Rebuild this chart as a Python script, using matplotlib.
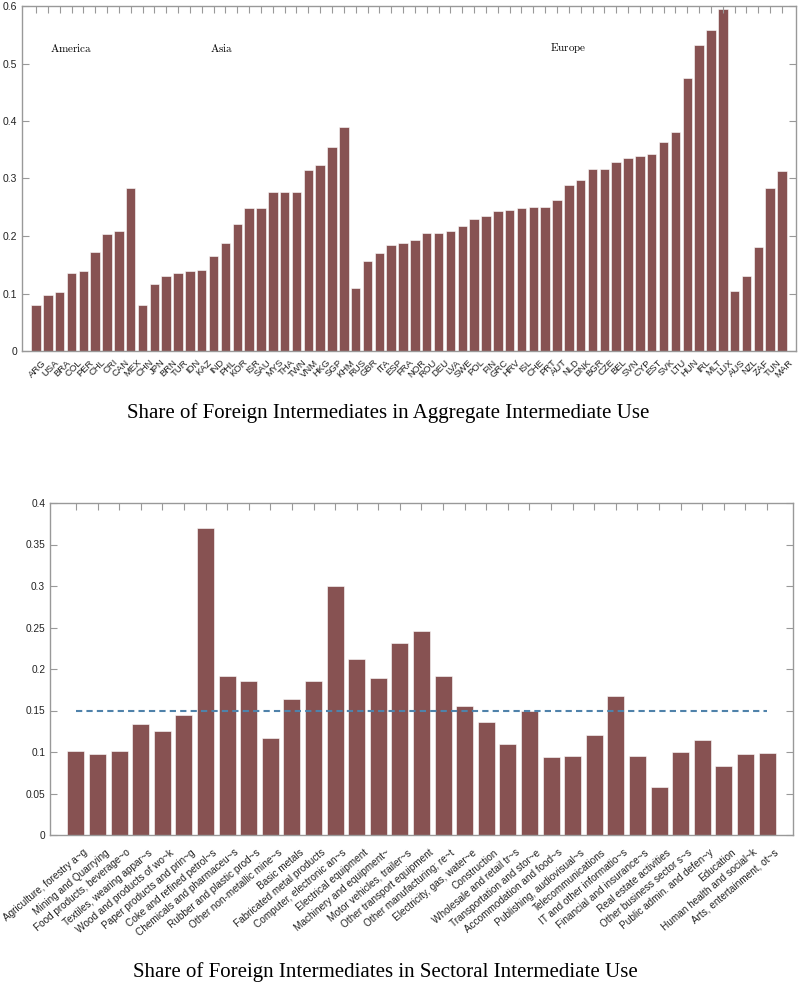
import numpy as np
import matplotlib
matplotlib.use('Agg')
import matplotlib.pyplot as plt
from matplotlib.transforms import ScaledTranslation

plt.rcParams['font.family'] = ['Liberation Sans', 'DejaVu Sans']
plt.rcParams['mathtext.fontset'] = 'cm'

# --- data: aggregate share by country ---
countries = ['ARG', 'USA', 'BRA', 'COL', 'PER', 'CHL', 'CRI', 'CAN', 'MEX',
             'CHN', 'JPN', 'BRN', 'TUR', 'IDN', 'KAZ', 'IND', 'PHL', 'KOR',
             'ISR', 'SAU', 'MYS', 'THA', 'TWN', 'VNM', 'HKG', 'SGP', 'KHM',
             'RUS', 'GBR', 'ITA', 'ESP', 'FRA', 'NOR', 'ROU', 'DEU', 'LVA',
             'SWE', 'POL', 'FIN', 'GRC', 'HRV', 'ISL', 'CHE', 'PRT', 'AUT',
             'NLD', 'DNK', 'BGR', 'CZE', 'BEL', 'SVN', 'CYP', 'EST', 'SVK',
             'LTU', 'HUN', 'IRL', 'MLT', 'LUX', 'AUS', 'NZL', 'ZAF', 'TUN', 'MAR']
country_share = [0.080, 0.097, 0.102, 0.136, 0.140, 0.173, 0.204, 0.209, 0.283,
                 0.080, 0.116, 0.130, 0.135, 0.139, 0.141, 0.165, 0.187, 0.221,
                 0.248, 0.249, 0.276, 0.276, 0.276, 0.315, 0.323, 0.355, 0.390,
                 0.110, 0.157, 0.171, 0.184, 0.188, 0.193, 0.205, 0.206, 0.209,
                 0.217, 0.230, 0.234, 0.243, 0.245, 0.248, 0.250, 0.250, 0.263,
                 0.289, 0.297, 0.317, 0.317, 0.328, 0.336, 0.340, 0.343, 0.364,
                 0.381, 0.474, 0.533, 0.559, 0.594, 0.104, 0.131, 0.181, 0.283, 0.313]
regions = ['America', 'Asia', 'Europe']
region_pos = [3.0, 15.7, 44.9]
region_y = 0.527

# --- data: sectoral share ---
sectors = ['Agriculture, forestry a~g', 'Mining and Quarrying', 'Food products, beverage~o',
           'Textiles, wearing appar~s', 'Wood and products of wo~k', 'Paper products and prin~g',
           'Coke and refined petrol~s', 'Chemicals and pharmaceu~s', 'Rubber and plastic prod~s',
           'Other non-metallic mine~s', 'Basic metals', 'Fabricated metal products',
           'Computer, electronic an~s', 'Electrical equipment', 'Machinery and equipment~',
           'Motor vehicles, trailer~s', 'Other transport equipment', 'Other manufacturing; re~t',
           'Electricity, gas, water~e', 'Construction', 'Wholesale and retail tr~s',
           'Transportation and stor~e', 'Accommodation and food~s', 'Publishing, audiovisual~s',
           'Telecommunications', 'IT and other informatio~s', 'Financial and insurance~s',
           'Real estate activities', 'Other business sector s~s', 'Public admin. and defen~y',
           'Education', 'Human health and social~k', 'Arts, entertainment, ot~s']
sector_share = [0.101, 0.097, 0.101, 0.134, 0.125, 0.144, 0.370, 0.191, 0.185,
                0.117, 0.164, 0.185, 0.300, 0.212, 0.189, 0.231, 0.246, 0.191,
                0.156, 0.136, 0.110, 0.149, 0.094, 0.095, 0.121, 0.168, 0.095,
                0.058, 0.100, 0.115, 0.083, 0.097, 0.099]
avg_share = 0.15

bar_color = '#875252'
spine_color = '#999999'

W, H = 798, 982
fig = plt.figure(figsize=(W / 100, H / 100), dpi=100)


def style_axes(ax, pad):
    for s in ax.spines.values():
        s.set_color(spine_color)
        s.set_linewidth(1.0)
    ax.tick_params(direction='in', top=True, right=True, bottom=False,
                   length=5, width=0.8, color=spine_color, labelcolor='#222222')
    ax.tick_params(axis='x', pad=pad)


def shift_labels(ax, dx_px):
    off = ScaledTranslation(dx_px / 100, 0, fig.dpi_scale_trans)
    for lab in ax.get_xticklabels():
        lab.set_transform(lab.get_transform() + off)


# top panel
ax1 = fig.add_axes([22 / W, 1 - 351 / H, (796 - 22) / W, (351 - 6) / H])
x1 = np.arange(len(countries))
ax1.bar(x1, country_share, width=0.8, color=bar_color, edgecolor='white', linewidth=0.4)
ax1.set_xlim(-1.18, len(countries) - 1 + 1.18)
ax1.set_ylim(0, 0.6)
yt1 = np.arange(0, 0.61, 0.1)
ax1.set_yticks(yt1)
ax1.set_yticklabels(['%g' % round(v, 2) for v in yt1], fontsize=7.5)
ax1.set_xticks(x1)
ax1.set_xticklabels(countries, rotation=45, ha='right', rotation_mode='anchor', fontsize=6.8)
style_axes(ax1, pad=5)
shift_labels(ax1, 6)
for name, pos in zip(regions, region_pos):
    ax1.text(pos, region_y, r'$\mathrm{%s}$' % name, ha='center', va='center', fontsize=8)

fig.text(388 / W, 1 - 418 / H, 'Share of Foreign Intermediates in Aggregate Intermediate Use',
         ha='center', va='baseline', fontsize=15, family='Liberation Serif')

# bottom panel
ax2 = fig.add_axes([50 / W, 1 - 835 / H, (793 - 50) / W, (835 - 503) / H])
x2 = np.arange(len(sectors))
ax2.bar(x2, sector_share, width=0.78, color=bar_color, edgecolor='white', linewidth=0.4)
ax2.plot([x2[0], x2[-1]], [avg_share, avg_share], color='#4f82aa', lw=1.5,
         linestyle=(0, (3, 2)))
ax2.set_xlim(-1.2, len(sectors) - 1 + 1.2)
ax2.set_ylim(0, 0.4)
yt2 = np.arange(0, 0.401, 0.05)
ax2.set_yticks(yt2)
ax2.set_yticklabels(['%g' % round(v, 2) for v in yt2], fontsize=7.3)
ax2.set_xticks(x2)
ax2.set_xticklabels(sectors, rotation=40, ha='right', rotation_mode='anchor', fontsize=7.2)
style_axes(ax2, pad=9)
shift_labels(ax2, 7)

fig.text(385 / W, 1 - 977 / H, 'Share of Foreign Intermediates in Sectoral Intermediate Use',
         ha='center', va='baseline', fontsize=15, family='Liberation Serif')

fig.savefig('out.png', dpi=100)
